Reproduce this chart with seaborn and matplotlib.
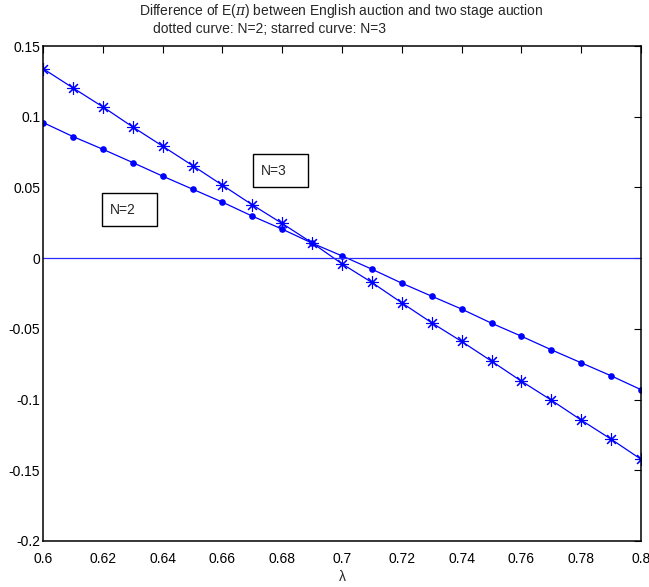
import matplotlib
matplotlib.use("Agg")
import matplotlib.pyplot as plt
import matplotlib.ticker as mticker
from matplotlib.patches import Rectangle
import pandas as pd
import seaborn as sns

# lambda grid and E(pi) differences
lam = [0.60, 0.61, 0.62, 0.63, 0.64, 0.65, 0.66, 0.67, 0.68, 0.69, 0.70,
       0.71, 0.72, 0.73, 0.74, 0.75, 0.76, 0.77, 0.78, 0.79, 0.80]
diff_n2 = [0.0959, 0.0860, 0.0770, 0.0676, 0.0580, 0.0488, 0.0396, 0.0297,
           0.0205, 0.0106, 0.0016, -0.0078, -0.0177, -0.0269, -0.0360,
           -0.0460, -0.0552, -0.0648, -0.0740, -0.0832, -0.0930]
diff_n3 = [0.1340, 0.1204, 0.1070, 0.0928, 0.0792, 0.0655, 0.0516, 0.0377,
           0.0245, 0.0108, -0.0040, -0.0172, -0.0316, -0.0457, -0.0589,
           -0.0728, -0.0870, -0.1004, -0.1145, -0.1280, -0.1422]
xticks = [0.6, 0.62, 0.64, 0.66, 0.68, 0.7, 0.72, 0.74, 0.76, 0.78, 0.8]
yticks = [-0.2, -0.15, -0.1, -0.05, 0, 0.05, 0.1, 0.15]

sns.set_style("white")
plt.rcParams["font.family"] = ["Liberation Sans", "DejaVu Sans"]
plt.rcParams["mathtext.fontset"] = "custom"
plt.rcParams["mathtext.it"] = "DejaVu Serif:italic"

df = pd.DataFrame({"lam": lam, "n2": diff_n2, "n3": diff_n3})

fig = plt.figure(figsize=(6.49, 5.87), dpi=100)
ax = fig.add_axes([43 / 649, 46 / 587, 598 / 649, 495 / 587])

blue = "#0000ff"
sns.lineplot(data=df, x="lam", y="n2", ax=ax, color=blue, lw=0.9,
             marker="o", markersize=4.8, markeredgewidth=0)
sns.lineplot(data=df, x="lam", y="n3", ax=ax, color=blue, lw=0.9,
             marker=(8, 2, 0), markersize=9, markeredgewidth=0.8,
             markeredgecolor=blue)
ax.axhline(0, color="#2a2aff", lw=0.9)

# annotation boxes (MATLAB-style text boxes)
for (x0, x1, y0, y1), tx, ty, label in [
    ((0.6702, 0.6886, 0.0502, 0.0735), 0.6729, 0.0619, "N=3"),
    ((0.6197, 0.6381, 0.0226, 0.0460), 0.6224, 0.0343, "N=2"),
]:
    ax.add_patch(Rectangle((x0, y0), x1 - x0, y1 - y0, fc="white",
                           ec="black", lw=1.0, zorder=5))
    ax.text(tx, ty, label, fontsize=10, va="center", ha="left", zorder=6)

ax.set_xlim(0.6, 0.8)
ax.set_ylim(-0.2, 0.15)
ax.set_xticks(xticks)
ax.set_yticks(yticks)
fmt = mticker.FuncFormatter(lambda v, p: f"{v:g}")
ax.xaxis.set_major_formatter(fmt)
ax.yaxis.set_major_formatter(fmt)
ax.tick_params(axis="both", direction="in", length=5, width=0.8, top=True,
               right=True, labelsize=10, colors="black")
ax.tick_params(axis="x", pad=8)
ax.tick_params(axis="y", pad=2)
ax.set_xlabel("λ", fontsize=10, labelpad=3)
ax.set_ylabel("")
for s in ax.spines.values():
    s.set_visible(True)
    s.set_color("black")
    s.set_linewidth(1.1)

fig.text(341.5 / 649, 1 - 11 / 587,
         r"Difference of E($\pi$) between English auction and two stage auction",
         ha="center", va="center", fontsize=10)
fig.text(153 / 649, 1 - 29 / 587, "dotted curve: N=2; starred curve: N=3",
         ha="left", va="center", fontsize=10)

fig.savefig("out.png", dpi=100)
